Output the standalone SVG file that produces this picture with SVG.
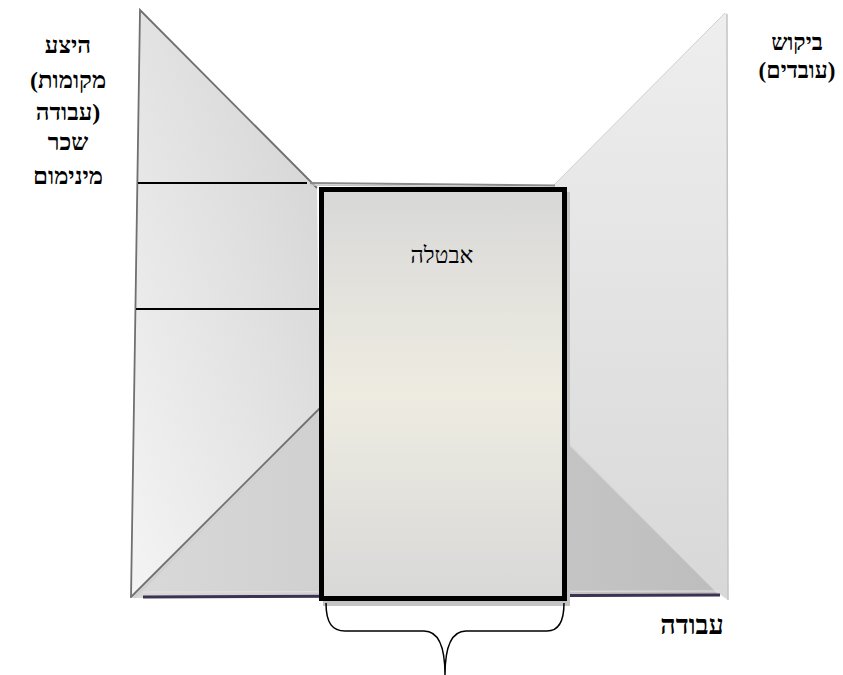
<svg xmlns="http://www.w3.org/2000/svg" width="843" height="675" viewBox="0 0 843 675">
<style>
.lbl{font-family:"Liberation Serif","Times New Roman",serif;fill:#000;text-anchor:middle}
.b{font-weight:bold}
.L{font-size:24px}
.R{font-size:23px}
.edge{fill:none;stroke:#707070;stroke-width:1.8}
.hl{stroke:#000;stroke-width:2}
</style>
<defs>
<linearGradient id="gLeft" x1="1" y1="0" x2="0" y2="1">
<stop offset="0" stop-color="#d2d2d2"/>
<stop offset="1" stop-color="#f4f4f4"/>
</linearGradient>
<linearGradient id="gRight" x1="0" y1="0" x2="0" y2="1">
<stop offset="0" stop-color="#eeeeee"/>
<stop offset="1" stop-color="#d8d8d8"/>
</linearGradient>
<linearGradient id="gBottom" x1="0" y1="0" x2="1" y2="0">
<stop offset="0" stop-color="#d9d9d9"/>
<stop offset="1" stop-color="#bdbdbd"/>
</linearGradient>
<linearGradient id="gRect" x1="0" y1="0" x2="0" y2="1">
<stop offset="0" stop-color="#d8d8d8"/>
<stop offset="0.5" stop-color="#eeece1"/>
<stop offset="1" stop-color="#d8d8d8"/>
</linearGradient>
</defs>

<g id="supply-shape">
<polygon points="140,10 317,188 320,411 131,598" fill="url(#gLeft)"/>
<polyline class="edge" points="317,188 140,10 131,598"/>
<line class="hl" x1="138" y1="183" x2="307" y2="183"/>
<line class="hl" x1="136" y1="309" x2="320" y2="309"/>
</g>

<g id="demand-shape">
<polygon points="725,13 553,186 566,442 718,593 728,600 727,13" fill="url(#gRight)"/>
<line x1="727" y1="14" x2="728" y2="600" stroke="#c4c4c4" stroke-width="1.5"/>
<line x1="725" y1="13" x2="553" y2="186" stroke="#d0d0d0" stroke-width="1"/>
</g>

<g id="bottom-shape">
<polygon points="131,598 427,302 720,595" fill="url(#gBottom)"/>
<line x1="134" y1="598" x2="322" y2="410" stroke="#d0d0d0" stroke-width="2"/>
<line x1="131" y1="597" x2="320" y2="408" stroke="#707070" stroke-width="1.8"/>
<line x1="566" y1="441" x2="718" y2="593" stroke="#dadada" stroke-width="1.5"/>
<line x1="143" y1="592" x2="720" y2="591" stroke="#e2e2e2" stroke-width="1"/>
<line x1="143" y1="597" x2="720" y2="595" stroke="#3f3151" stroke-width="3"/>
<line x1="310" y1="183" x2="555" y2="185.5" stroke="#8a8a8a" stroke-width="2"/>
<line x1="310" y1="185" x2="555" y2="187.5" stroke="#c4c4c4" stroke-width="1.5"/>
</g>

<g id="unemployment">
<rect x="323" y="192" width="247" height="414" fill="#c4c4c4"/>
<rect x="321.5" y="189.5" width="243" height="409" fill="url(#gRect)" stroke="#000" stroke-width="5"/>
<text class="lbl" x="442" y="263" font-size="23">אבטלה</text>
</g>

<g id="brace">
<path d="M326,603 C326,624 333,631 345,631 L424,631 C438,631 445,645 445,675 M564,603 C564,624 557,631 547,631 L466,631 C452,631 445,645 445,675" fill="none" stroke="#000" stroke-width="1.5"/>
</g>

<g id="labels">
<text class="lbl b L" x="68" y="53">היצע</text>
<text class="lbl b L" x="68" y="88">(מקומות</text>
<text class="lbl b L" x="68" y="120">עבודה)</text>
<text class="lbl b L" x="68" y="150">שכר</text>
<text class="lbl b L" x="68" y="184">מינימום</text>
<text class="lbl b R" x="797" y="50">ביקוש</text>
<text class="lbl b R" x="797" y="78">(עובדים)</text>
<text class="lbl b" x="692" y="634" font-size="27">עבודה</text>
</g>
</svg>
